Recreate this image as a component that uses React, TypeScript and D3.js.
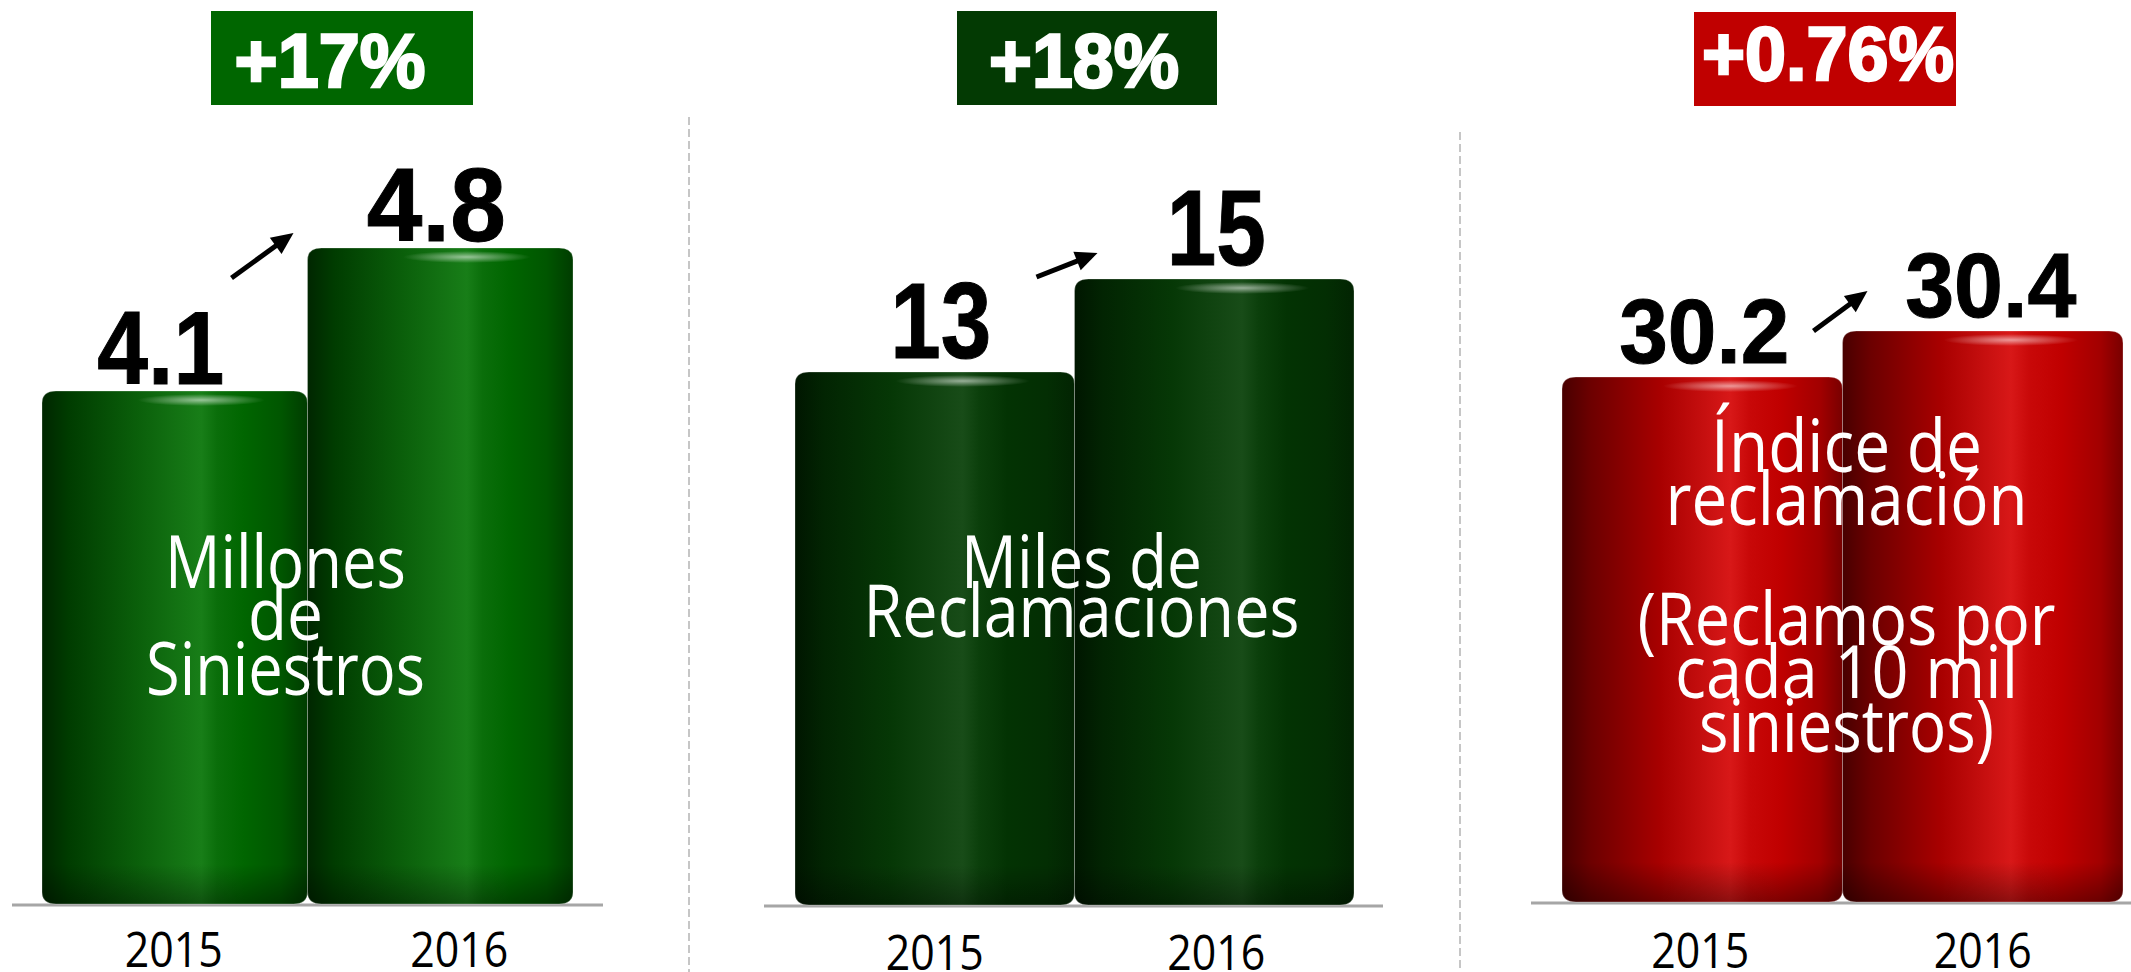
import React from "react";
import * as d3 from "d3";

// ---------- data ----------
const years = ["2015", "2016"];
const siniestros = [4.1, 4.8];
const reclamaciones = [13, 15];
const indice = [30.2, 30.4];
const badgeLabels = ["+17%", "+18%", "+0.76%"];
const captionSiniestros = ["Millones", "de", "Siniestros"];
const captionReclamaciones = ["Miles de", "Reclamaciones"];
const captionIndice = ["Índice de", "reclamación", "(Reclamos por", "cada 10 mil", "siniestros)"];
const axisMins = [1.59, 1.54, 27.92];

// ---------- layout ----------
type Panel = {
  id: string;
  values: number[];
  yMin: number;
  fmt: (v: number) => string;
  barRange: [number, number];
  base: number;
  topY: number;
  axis: [number, number];
  badge: { x0: number; x1: number; y0: number; y1: number; fill: string; tw: number; base: number; dx: number };
  badgeText: string;
  stops: [number, string][];
  labelSize: number;
  labelWidths: number[];
  labelGap: number;
  labelDx: number[];
  caption: string[];
  captionBase: number[];
  captionWidths: number[];
  captionDx: number;
  yearBase: number;
  yearDx: number[];
  arrow: [number, number, number, number];
};

const panels: Panel[] = [
  {
    id: "p1",
    values: siniestros,
    yMin: axisMins[0],
    fmt: d3.format(".1f"),
    barRange: [42, 573],
    base: 904,
    topY: 248,
    axis: [12, 603],
    badge: { x0: 211, x1: 473, y0: 11, y1: 105, fill: "#006600", tw: 191, base: 87, dx: -12 },
    badgeText: badgeLabels[0],
    stops: [
      [0, "#002600"],
      [0.1, "#003c00"],
      [0.35, "#0a5e0a"],
      [0.6, "#187e18"],
      [0.66, "#0a6e0a"],
      [0.76, "#006600"],
      [0.9, "#005600"],
      [1, "#003c00"],
    ],
    labelSize: 104,
    labelWidths: [127, 139],
    labelGap: 7,
    labelDx: [-14, -4],
    caption: captionSiniestros,
    captionBase: [588, 640, 695],
    captionWidths: [241, 75, 279],
    captionDx: -22,
    yearBase: 967,
    yearDx: [-1, 19],
    arrow: [-76, 30, -14, -15],
  },
  {
    id: "p2",
    values: reclamaciones,
    yMin: axisMins[1],
    fmt: d3.format("d"),
    barRange: [795, 1354],
    base: 905,
    topY: 279,
    axis: [764, 1383],
    badge: { x0: 957, x1: 1217, y0: 11, y1: 105, fill: "#033a03", tw: 190, base: 87, dx: -3 },
    badgeText: badgeLabels[1],
    stops: [
      [0, "#001600"],
      [0.1, "#022402"],
      [0.35, "#063806"],
      [0.6, "#184c18"],
      [0.66, "#0b3f0b"],
      [0.76, "#033303"],
      [0.9, "#032e03"],
      [1, "#022402"],
    ],
    labelSize: 108,
    labelWidths: [101, 99],
    labelGap: 14,
    labelDx: [6, 2],
    caption: captionReclamaciones,
    captionBase: [588, 637],
    captionWidths: [241, 436],
    captionDx: 7,
    yearBase: 970,
    yearDx: [0, 2],
    arrow: [-38, -2, 23, -26],
  },
  {
    id: "p3",
    values: indice,
    yMin: axisMins[2],
    fmt: d3.format(".1f"),
    barRange: [1562, 2123],
    base: 902,
    topY: 331,
    axis: [1531, 2131],
    badge: { x0: 1694, x1: 1956, y0: 12, y1: 106, fill: "#c00000", tw: 252, base: 80, dx: 3 },
    badgeText: badgeLabels[2],
    stops: [
      [0, "#480000"],
      [0.1, "#6c0000"],
      [0.35, "#a80000"],
      [0.6, "#d81818"],
      [0.67, "#c80808"],
      [0.78, "#c00000"],
      [0.92, "#a20000"],
      [1, "#780000"],
    ],
    labelSize: 90,
    labelWidths: [170, 171],
    labelGap: 14,
    labelDx: [2, 8],
    caption: captionIndice,
    captionBase: [472, 525, 645, 698, 752],
    captionWidths: [271, 362, 418, 343, 295],
    captionDx: 4,
    yearBase: 968,
    yearDx: [-2, 0],
    arrow: [-29, 0, 25, -40],
  },
];

const separators = [
  { x: 689, y0: 117 },
  { x: 1460, y0: 132 },
];

const W = 2131;
const H = 972;

function roundedBar(x: number, y: number, w: number, h: number, rx: number, ry: number) {
  return `M${x},${y + ry}
    Q${x},${y} ${x + rx},${y}
    L${x + w - rx},${y}
    Q${x + w},${y} ${x + w},${y + ry}
    L${x + w},${y + h - ry}
    Q${x + w},${y + h} ${x + w - rx},${y + h}
    L${x + rx},${y + h}
    Q${x},${y + h} ${x},${y + h - ry}Z`;
}

function Arrow({ x1, y1, x2, y2 }: { x1: number; y1: number; x2: number; y2: number }) {
  const a = Math.atan2(y2 - y1, x2 - x1);
  const L = 22;
  const hw = 10;
  const bx = x2 - L * Math.cos(a);
  const by = y2 - L * Math.sin(a);
  const nx = -Math.sin(a);
  const ny = Math.cos(a);
  const head = `M${x2},${y2} L${bx + nx * hw},${by + ny * hw} L${bx - nx * hw},${by - ny * hw}Z`;
  return (
    <g>
      <line x1={x1} y1={y1} x2={bx + 2 * Math.cos(a)} y2={by + 2 * Math.sin(a)} stroke="#000" strokeWidth={5} />
      <path d={head} fill="#000" />
    </g>
  );
}

function PanelView({ p }: { p: Panel }) {
  const x = d3.scaleBand<string>().domain(years).range(p.barRange).paddingInner(0).paddingOuter(0);
  const y = d3
    .scaleLinear()
    .domain([p.yMin, d3.max(p.values) as number])
    .range([p.base, p.topY]);
  const bw = x.bandwidth();
  const x2 = x(years[1]) as number;
  const top2 = y(p.values[1]);
  const barsCenter = (p.barRange[0] + p.barRange[1]) / 2;
  return (
    <g>
      <defs>
        <linearGradient id={`grad-${p.id}`} x1="0" x2="1" y1="0" y2="0">
          {p.stops.map(([o, c], i) => (
            <stop key={i} offset={o} stopColor={c} />
          ))}
        </linearGradient>
        <radialGradient id={`hl-${p.id}`}>
          <stop offset="0" stopColor="#ffffff" stopOpacity={0.55} />
          <stop offset="1" stopColor="#ffffff" stopOpacity={0} />
        </radialGradient>
        <linearGradient id={`bot-${p.id}`} x1="0" x2="0" y1="0" y2="1">
          <stop offset="0" stopColor="#000" stopOpacity={0} />
          <stop offset="1" stopColor="#000" stopOpacity={0.35} />
        </linearGradient>
      </defs>
      {/* badge */}
      <rect
        x={p.badge.x0}
        y={p.badge.y0}
        width={p.badge.x1 - p.badge.x0}
        height={p.badge.y1 - p.badge.y0}
        fill={p.badge.fill}
      />
      <text
        x={(p.badge.x0 + p.badge.x1) / 2 + p.badge.dx}
        y={p.badge.base}
        textAnchor="middle"
        fill="#fff"
        stroke="#fff"
        strokeWidth={2.5}
        fontFamily="'Liberation Sans', Arial, sans-serif"
        fontWeight={700}
        fontSize={76}
        textLength={p.badge.tw}
        lengthAdjust="spacingAndGlyphs"
      >
        {p.badgeText}
      </text>
      {/* baseline */}
      <line x1={p.axis[0]} x2={p.axis[1]} y1={p.base + 1} y2={p.base + 1} stroke="#a6a6a6" strokeWidth={3} />
      {/* bars */}
      {p.values.map((v, i) => {
        const bx = x(years[i]) as number;
        const by = y(v);
        const h = p.base - by;
        return (
          <g key={i}>
            <path d={roundedBar(bx, by, bw, h, 14, 12)} fill={`url(#grad-${p.id})`} />
            <path
              d={roundedBar(bx, p.base - 40, bw, 40, 14, 12)}
              fill={`url(#bot-${p.id})`}
            />
            <ellipse cx={bx + bw * 0.6} cy={by + 9} rx={bw * 0.24} ry={6} fill={`url(#hl-${p.id})`} />
            <path
              d={roundedBar(bx, by, bw, h, 14, 12)}
              fill="none"
              stroke="rgba(255,255,255,0.25)"
              strokeWidth={1}
            />
          </g>
        );
      })}
      {/* value labels */}
      {p.values.map((v, i) => (
        <text
          key={i}
          x={(x(years[i]) as number) + bw / 2 + p.labelDx[i]}
          y={y(v) - p.labelGap}
          textAnchor="middle"
          fill="#000"
          stroke="#000"
          strokeWidth={1}
          fontFamily="'Liberation Sans', Arial, sans-serif"
          fontWeight={700}
          fontSize={p.labelSize}
          textLength={p.labelWidths[i]}
          lengthAdjust="spacingAndGlyphs"
        >
          {p.fmt(v)}
        </text>
      ))}
      {/* arrow */}
      <Arrow
        x1={x2 + p.arrow[0]}
        y1={top2 + p.arrow[1]}
        x2={x2 + p.arrow[2]}
        y2={top2 + p.arrow[3]}
      />
      {/* caption */}
      {p.caption.map((line, i) => (
        <text
          key={i}
          x={barsCenter + p.captionDx}
          y={p.captionBase[i]}
          textAnchor="middle"
          fill="#fff"
          fontFamily="'Open Sans', sans-serif"
          fontSize={74}
          textLength={p.captionWidths[i]}
          lengthAdjust="spacingAndGlyphs"
        >
          {line}
        </text>
      ))}
      {/* year labels */}
      {years.map((yr, i) => (
        <text
          key={yr}
          x={(x(yr) as number) + bw / 2 + p.yearDx[i]}
          y={p.yearBase}
          textAnchor="middle"
          fill="#000"
          fontFamily="'Open Sans', sans-serif"
          fontSize={49}
          textLength={98}
          lengthAdjust="spacingAndGlyphs"
        >
          {yr}
        </text>
      ))}
    </g>
  );
}

export default function App() {
  return (
    <svg
      width={W}
      height={H}
      viewBox={`0 0 ${W} ${H}`}
      style={{ position: "absolute", left: 0, top: 0, background: "#fff", display: "block" }}
    >
      <rect width={W} height={H} fill="#fff" />
      {separators.map((s, i) => (
        <line
          key={i}
          x1={s.x}
          x2={s.x}
          y1={s.y0}
          y2={H}
          stroke="#b4b4b4"
          strokeWidth={1.5}
          strokeDasharray="8 4"
        />
      ))}
      {panels.map((p) => (
        <PanelView key={p.id} p={p} />
      ))}
    </svg>
  );
}
